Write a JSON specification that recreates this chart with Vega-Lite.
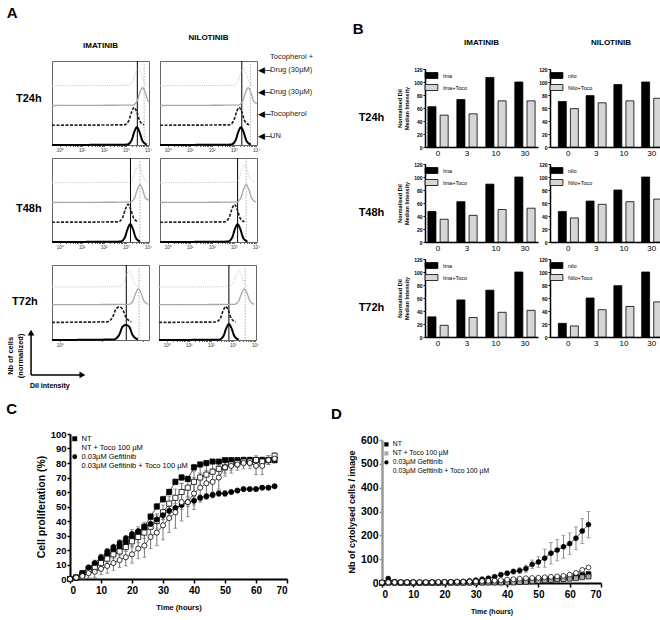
{
"$schema":"https://vega.github.io/schema/vega-lite/v6.json",
"padding":5,
"config":{"font":"Liberation Sans","view":{"stroke":null},"axis":{"grid":false,"domainColor":"black","tickColor":"black","labelColor":"black","titleColor":"black"},"legend":{"labelColor":"black"},"title":{"color":"black"}},
"datasets":{
"hist":[
{"t":"T24h","d":"IMATINIB","c":"UN","x":-0.35,"y":0},{"t":"T24h","d":"IMATINIB","c":"UN","x":3.05,"y":0.02},{"t":"T24h","d":"IMATINIB","c":"UN","x":3.25,"y":0.22},{"t":"T24h","d":"IMATINIB","c":"UN","x":3.38,"y":0.66},{"t":"T24h","d":"IMATINIB","c":"UN","x":3.5,"y":0.9},{"t":"T24h","d":"IMATINIB","c":"UN","x":3.62,"y":0.66},{"t":"T24h","d":"IMATINIB","c":"UN","x":3.75,"y":0.22},{"t":"T24h","d":"IMATINIB","c":"UN","x":3.95,"y":0.02},
{"t":"T24h","d":"IMATINIB","c":"Toco","x":-0.35,"y":1},{"t":"T24h","d":"IMATINIB","c":"Toco","x":2.93,"y":1.02},{"t":"T24h","d":"IMATINIB","c":"Toco","x":3.13,"y":1.22},{"t":"T24h","d":"IMATINIB","c":"Toco","x":3.26,"y":1.66},{"t":"T24h","d":"IMATINIB","c":"Toco","x":3.38,"y":1.9},{"t":"T24h","d":"IMATINIB","c":"Toco","x":3.5,"y":1.66},{"t":"T24h","d":"IMATINIB","c":"Toco","x":3.63,"y":1.22},{"t":"T24h","d":"IMATINIB","c":"Toco","x":3.83,"y":1.02},
{"t":"T24h","d":"IMATINIB","c":"Drug","x":-0.35,"y":2},{"t":"T24h","d":"IMATINIB","c":"Drug","x":3.31,"y":2.02},{"t":"T24h","d":"IMATINIB","c":"Drug","x":3.51,"y":2.22},{"t":"T24h","d":"IMATINIB","c":"Drug","x":3.64,"y":2.66},{"t":"T24h","d":"IMATINIB","c":"Drug","x":3.76,"y":2.9},{"t":"T24h","d":"IMATINIB","c":"Drug","x":3.88,"y":2.66},{"t":"T24h","d":"IMATINIB","c":"Drug","x":4.01,"y":2.22},{"t":"T24h","d":"IMATINIB","c":"Drug","x":4.05,"y":2.17},
{"t":"T24h","d":"IMATINIB","c":"TD","x":-0.35,"y":3},{"t":"T24h","d":"IMATINIB","c":"TD","x":3.11,"y":3.02},{"t":"T24h","d":"IMATINIB","c":"TD","x":3.31,"y":3.22},{"t":"T24h","d":"IMATINIB","c":"TD","x":3.44,"y":3.66},{"t":"T24h","d":"IMATINIB","c":"TD","x":3.56,"y":3.9},{"t":"T24h","d":"IMATINIB","c":"TD","x":3.68,"y":3.66},{"t":"T24h","d":"IMATINIB","c":"TD","x":3.81,"y":3.22},{"t":"T24h","d":"IMATINIB","c":"TD","x":4.01,"y":3.02},
{"t":"T24h","d":"NILOTINIB","c":"UN","x":-0.35,"y":0},{"t":"T24h","d":"NILOTINIB","c":"UN","x":2.87,"y":0.02},{"t":"T24h","d":"NILOTINIB","c":"UN","x":3.07,"y":0.22},{"t":"T24h","d":"NILOTINIB","c":"UN","x":3.2,"y":0.66},{"t":"T24h","d":"NILOTINIB","c":"UN","x":3.32,"y":0.9},{"t":"T24h","d":"NILOTINIB","c":"UN","x":3.44,"y":0.66},{"t":"T24h","d":"NILOTINIB","c":"UN","x":3.57,"y":0.22},{"t":"T24h","d":"NILOTINIB","c":"UN","x":3.77,"y":0.02},
{"t":"T24h","d":"NILOTINIB","c":"Toco","x":-0.35,"y":1},{"t":"T24h","d":"NILOTINIB","c":"Toco","x":2.79,"y":1.02},{"t":"T24h","d":"NILOTINIB","c":"Toco","x":2.99,"y":1.22},{"t":"T24h","d":"NILOTINIB","c":"Toco","x":3.12,"y":1.66},{"t":"T24h","d":"NILOTINIB","c":"Toco","x":3.24,"y":1.9},{"t":"T24h","d":"NILOTINIB","c":"Toco","x":3.36,"y":1.66},{"t":"T24h","d":"NILOTINIB","c":"Toco","x":3.49,"y":1.22},{"t":"T24h","d":"NILOTINIB","c":"Toco","x":3.69,"y":1.02},
{"t":"T24h","d":"NILOTINIB","c":"Drug","x":-0.35,"y":2},{"t":"T24h","d":"NILOTINIB","c":"Drug","x":3.2,"y":2.02},{"t":"T24h","d":"NILOTINIB","c":"Drug","x":3.4,"y":2.22},{"t":"T24h","d":"NILOTINIB","c":"Drug","x":3.53,"y":2.66},{"t":"T24h","d":"NILOTINIB","c":"Drug","x":3.65,"y":2.9},{"t":"T24h","d":"NILOTINIB","c":"Drug","x":3.77,"y":2.66},{"t":"T24h","d":"NILOTINIB","c":"Drug","x":3.9,"y":2.22},{"t":"T24h","d":"NILOTINIB","c":"Drug","x":4.05,"y":2.1},
{"t":"T24h","d":"NILOTINIB","c":"TD","x":-0.35,"y":3},{"t":"T24h","d":"NILOTINIB","c":"TD","x":2.98,"y":3.02},{"t":"T24h","d":"NILOTINIB","c":"TD","x":3.18,"y":3.22},{"t":"T24h","d":"NILOTINIB","c":"TD","x":3.31,"y":3.66},{"t":"T24h","d":"NILOTINIB","c":"TD","x":3.43,"y":3.9},{"t":"T24h","d":"NILOTINIB","c":"TD","x":3.55,"y":3.66},{"t":"T24h","d":"NILOTINIB","c":"TD","x":3.68,"y":3.22},{"t":"T24h","d":"NILOTINIB","c":"TD","x":3.88,"y":3.02},
{"t":"T48h","d":"IMATINIB","c":"UN","x":-0.35,"y":0},{"t":"T48h","d":"IMATINIB","c":"UN","x":2.75,"y":0.02},{"t":"T48h","d":"IMATINIB","c":"UN","x":2.95,"y":0.22},{"t":"T48h","d":"IMATINIB","c":"UN","x":3.08,"y":0.66},{"t":"T48h","d":"IMATINIB","c":"UN","x":3.2,"y":0.9},{"t":"T48h","d":"IMATINIB","c":"UN","x":3.32,"y":0.66},{"t":"T48h","d":"IMATINIB","c":"UN","x":3.45,"y":0.22},{"t":"T48h","d":"IMATINIB","c":"UN","x":3.65,"y":0.02},
{"t":"T48h","d":"IMATINIB","c":"Toco","x":-0.35,"y":1},{"t":"T48h","d":"IMATINIB","c":"Toco","x":2.65,"y":1.02},{"t":"T48h","d":"IMATINIB","c":"Toco","x":2.85,"y":1.22},{"t":"T48h","d":"IMATINIB","c":"Toco","x":2.98,"y":1.66},{"t":"T48h","d":"IMATINIB","c":"Toco","x":3.1,"y":1.9},{"t":"T48h","d":"IMATINIB","c":"Toco","x":3.22,"y":1.66},{"t":"T48h","d":"IMATINIB","c":"Toco","x":3.35,"y":1.22},{"t":"T48h","d":"IMATINIB","c":"Toco","x":3.55,"y":1.02},
{"t":"T48h","d":"IMATINIB","c":"Drug","x":-0.35,"y":2},{"t":"T48h","d":"IMATINIB","c":"Drug","x":3.19,"y":2.02},{"t":"T48h","d":"IMATINIB","c":"Drug","x":3.39,"y":2.22},{"t":"T48h","d":"IMATINIB","c":"Drug","x":3.52,"y":2.66},{"t":"T48h","d":"IMATINIB","c":"Drug","x":3.64,"y":2.9},{"t":"T48h","d":"IMATINIB","c":"Drug","x":3.76,"y":2.66},{"t":"T48h","d":"IMATINIB","c":"Drug","x":3.89,"y":2.22},{"t":"T48h","d":"IMATINIB","c":"Drug","x":4.05,"y":2.12},
{"t":"T48h","d":"IMATINIB","c":"TD","x":-0.35,"y":3},{"t":"T48h","d":"IMATINIB","c":"TD","x":3.12,"y":3.02},{"t":"T48h","d":"IMATINIB","c":"TD","x":3.32,"y":3.22},{"t":"T48h","d":"IMATINIB","c":"TD","x":3.45,"y":3.66},{"t":"T48h","d":"IMATINIB","c":"TD","x":3.57,"y":3.9},{"t":"T48h","d":"IMATINIB","c":"TD","x":3.69,"y":3.66},{"t":"T48h","d":"IMATINIB","c":"TD","x":3.82,"y":3.22},{"t":"T48h","d":"IMATINIB","c":"TD","x":4.02,"y":3.02},
{"t":"T48h","d":"NILOTINIB","c":"UN","x":-0.35,"y":0},{"t":"T48h","d":"NILOTINIB","c":"UN","x":2.72,"y":0.02},{"t":"T48h","d":"NILOTINIB","c":"UN","x":2.92,"y":0.22},{"t":"T48h","d":"NILOTINIB","c":"UN","x":3.05,"y":0.66},{"t":"T48h","d":"NILOTINIB","c":"UN","x":3.17,"y":0.9},{"t":"T48h","d":"NILOTINIB","c":"UN","x":3.29,"y":0.66},{"t":"T48h","d":"NILOTINIB","c":"UN","x":3.42,"y":0.22},{"t":"T48h","d":"NILOTINIB","c":"UN","x":3.62,"y":0.02},
{"t":"T48h","d":"NILOTINIB","c":"Toco","x":-0.35,"y":1},{"t":"T48h","d":"NILOTINIB","c":"Toco","x":2.58,"y":1.02},{"t":"T48h","d":"NILOTINIB","c":"Toco","x":2.78,"y":1.22},{"t":"T48h","d":"NILOTINIB","c":"Toco","x":2.91,"y":1.66},{"t":"T48h","d":"NILOTINIB","c":"Toco","x":3.03,"y":1.9},{"t":"T48h","d":"NILOTINIB","c":"Toco","x":3.15,"y":1.66},{"t":"T48h","d":"NILOTINIB","c":"Toco","x":3.28,"y":1.22},{"t":"T48h","d":"NILOTINIB","c":"Toco","x":3.48,"y":1.02},
{"t":"T48h","d":"NILOTINIB","c":"Drug","x":-0.35,"y":2},{"t":"T48h","d":"NILOTINIB","c":"Drug","x":3.11,"y":2.02},{"t":"T48h","d":"NILOTINIB","c":"Drug","x":3.31,"y":2.22},{"t":"T48h","d":"NILOTINIB","c":"Drug","x":3.44,"y":2.66},{"t":"T48h","d":"NILOTINIB","c":"Drug","x":3.56,"y":2.9},{"t":"T48h","d":"NILOTINIB","c":"Drug","x":3.68,"y":2.66},{"t":"T48h","d":"NILOTINIB","c":"Drug","x":3.81,"y":2.22},{"t":"T48h","d":"NILOTINIB","c":"Drug","x":4.01,"y":2.02},
{"t":"T48h","d":"NILOTINIB","c":"TD","x":-0.35,"y":3},{"t":"T48h","d":"NILOTINIB","c":"TD","x":3.03,"y":3.02},{"t":"T48h","d":"NILOTINIB","c":"TD","x":3.23,"y":3.22},{"t":"T48h","d":"NILOTINIB","c":"TD","x":3.36,"y":3.66},{"t":"T48h","d":"NILOTINIB","c":"TD","x":3.48,"y":3.9},{"t":"T48h","d":"NILOTINIB","c":"TD","x":3.6,"y":3.66},{"t":"T48h","d":"NILOTINIB","c":"TD","x":3.73,"y":3.22},{"t":"T48h","d":"NILOTINIB","c":"TD","x":3.93,"y":3.02},
{"t":"T72h","d":"IMATINIB","c":"UN","x":-0.35,"y":0},{"t":"T72h","d":"IMATINIB","c":"UN","x":2.45,"y":0.03},{"t":"T72h","d":"IMATINIB","c":"UN","x":2.7,"y":0.3},{"t":"T72h","d":"IMATINIB","c":"UN","x":2.85,"y":0.75},{"t":"T72h","d":"IMATINIB","c":"UN","x":3.0,"y":0.85},{"t":"T72h","d":"IMATINIB","c":"UN","x":3.15,"y":0.75},{"t":"T72h","d":"IMATINIB","c":"UN","x":3.3,"y":0.3},{"t":"T72h","d":"IMATINIB","c":"UN","x":3.55,"y":0.03},
{"t":"T72h","d":"IMATINIB","c":"Toco","x":-0.35,"y":1},{"t":"T72h","d":"IMATINIB","c":"Toco","x":2.15,"y":1.03},{"t":"T72h","d":"IMATINIB","c":"Toco","x":2.4,"y":1.3},{"t":"T72h","d":"IMATINIB","c":"Toco","x":2.55,"y":1.75},{"t":"T72h","d":"IMATINIB","c":"Toco","x":2.7,"y":1.88},{"t":"T72h","d":"IMATINIB","c":"Toco","x":2.85,"y":1.75},{"t":"T72h","d":"IMATINIB","c":"Toco","x":3.0,"y":1.3},{"t":"T72h","d":"IMATINIB","c":"Toco","x":3.25,"y":1.03},
{"t":"T72h","d":"IMATINIB","c":"Drug","x":-0.35,"y":2},{"t":"T72h","d":"IMATINIB","c":"Drug","x":3.12,"y":2.02},{"t":"T72h","d":"IMATINIB","c":"Drug","x":3.32,"y":2.22},{"t":"T72h","d":"IMATINIB","c":"Drug","x":3.45,"y":2.66},{"t":"T72h","d":"IMATINIB","c":"Drug","x":3.57,"y":2.9},{"t":"T72h","d":"IMATINIB","c":"Drug","x":3.69,"y":2.66},{"t":"T72h","d":"IMATINIB","c":"Drug","x":3.82,"y":2.22},{"t":"T72h","d":"IMATINIB","c":"Drug","x":4.02,"y":2.02},
{"t":"T72h","d":"IMATINIB","c":"TD","x":-0.35,"y":3},{"t":"T72h","d":"IMATINIB","c":"TD","x":2.69,"y":3.02},{"t":"T72h","d":"IMATINIB","c":"TD","x":2.89,"y":3.22},{"t":"T72h","d":"IMATINIB","c":"TD","x":3.02,"y":3.66},{"t":"T72h","d":"IMATINIB","c":"TD","x":3.14,"y":3.9},{"t":"T72h","d":"IMATINIB","c":"TD","x":3.26,"y":3.66},{"t":"T72h","d":"IMATINIB","c":"TD","x":3.39,"y":3.22},{"t":"T72h","d":"IMATINIB","c":"TD","x":3.59,"y":3.02},
{"t":"T72h","d":"NILOTINIB","c":"UN","x":-0.35,"y":0},{"t":"T72h","d":"NILOTINIB","c":"UN","x":2.37,"y":0.02},{"t":"T72h","d":"NILOTINIB","c":"UN","x":2.57,"y":0.22},{"t":"T72h","d":"NILOTINIB","c":"UN","x":2.7,"y":0.66},{"t":"T72h","d":"NILOTINIB","c":"UN","x":2.82,"y":0.9},{"t":"T72h","d":"NILOTINIB","c":"UN","x":2.94,"y":0.66},{"t":"T72h","d":"NILOTINIB","c":"UN","x":3.07,"y":0.22},{"t":"T72h","d":"NILOTINIB","c":"UN","x":3.27,"y":0.02},
{"t":"T72h","d":"NILOTINIB","c":"Toco","x":-0.35,"y":1},{"t":"T72h","d":"NILOTINIB","c":"Toco","x":2.23,"y":1.02},{"t":"T72h","d":"NILOTINIB","c":"Toco","x":2.43,"y":1.22},{"t":"T72h","d":"NILOTINIB","c":"Toco","x":2.56,"y":1.66},{"t":"T72h","d":"NILOTINIB","c":"Toco","x":2.68,"y":1.9},{"t":"T72h","d":"NILOTINIB","c":"Toco","x":2.8,"y":1.66},{"t":"T72h","d":"NILOTINIB","c":"Toco","x":2.93,"y":1.22},{"t":"T72h","d":"NILOTINIB","c":"Toco","x":3.13,"y":1.02},
{"t":"T72h","d":"NILOTINIB","c":"Drug","x":-0.35,"y":2},{"t":"T72h","d":"NILOTINIB","c":"Drug","x":3.07,"y":2.02},{"t":"T72h","d":"NILOTINIB","c":"Drug","x":3.27,"y":2.22},{"t":"T72h","d":"NILOTINIB","c":"Drug","x":3.4,"y":2.66},{"t":"T72h","d":"NILOTINIB","c":"Drug","x":3.52,"y":2.9},{"t":"T72h","d":"NILOTINIB","c":"Drug","x":3.64,"y":2.66},{"t":"T72h","d":"NILOTINIB","c":"Drug","x":3.77,"y":2.22},{"t":"T72h","d":"NILOTINIB","c":"Drug","x":3.97,"y":2.02},
{"t":"T72h","d":"NILOTINIB","c":"TD","x":-0.35,"y":3},{"t":"T72h","d":"NILOTINIB","c":"TD","x":2.82,"y":3.02},{"t":"T72h","d":"NILOTINIB","c":"TD","x":3.02,"y":3.22},{"t":"T72h","d":"NILOTINIB","c":"TD","x":3.15,"y":3.66},{"t":"T72h","d":"NILOTINIB","c":"TD","x":3.27,"y":3.9},{"t":"T72h","d":"NILOTINIB","c":"TD","x":3.39,"y":3.66},{"t":"T72h","d":"NILOTINIB","c":"TD","x":3.52,"y":3.22},{"t":"T72h","d":"NILOTINIB","c":"TD","x":3.72,"y":3.02},
{"t":"T24h","d":"IMATINIB","s":"solid","x":3.52},{"t":"T24h","d":"IMATINIB","s":"dot","x":3.83},
{"t":"T24h","d":"NILOTINIB","s":"solid","x":3.36},{"t":"T24h","d":"NILOTINIB","s":"dot","x":3.75},
{"t":"T48h","d":"IMATINIB","s":"solid","x":3.21},{"t":"T48h","d":"IMATINIB","s":"dot","x":3.64},
{"t":"T48h","d":"NILOTINIB","s":"solid","x":3.17},{"t":"T48h","d":"NILOTINIB","s":"dot","x":3.56},
{"t":"T72h","d":"IMATINIB","s":"solid","x":3.02},{"t":"T72h","d":"IMATINIB","s":"dot","x":3.6},
{"t":"T72h","d":"NILOTINIB","s":"solid","x":2.82},{"t":"T72h","d":"NILOTINIB","s":"dot","x":3.56},
{"t":"T24h","d":"NILOTINIB","a":1,"lab":"UN","x":4.05,"y":0.45},
{"t":"T24h","d":"NILOTINIB","a":1,"lab":"Tocopherol","x":4.05,"y":1.55},
{"t":"T24h","d":"NILOTINIB","a":1,"lab":"Drug (30µM)","x":4.05,"y":2.7},
{"t":"T24h","d":"NILOTINIB","a":1,"lab":"Drug (30µM)","x":4.05,"y":3.8},
{"t":"T24h","d":"NILOTINIB","a":0,"lab":"Tocopherol +","x":4.05,"y":4.45}
],
"bars":[
{"t":"T24h","d":"Ima","s":"Ima","dose":0,"v":62},{"t":"T24h","d":"Ima","s":"Ima","dose":3,"v":73},{"t":"T24h","d":"Ima","s":"Ima","dose":10,"v":107},{"t":"T24h","d":"Ima","s":"Ima","dose":30,"v":100},
{"t":"T24h","d":"Ima","s":"Ima+Toco","dose":0,"v":49},{"t":"T24h","d":"Ima","s":"Ima+Toco","dose":3,"v":51},{"t":"T24h","d":"Ima","s":"Ima+Toco","dose":10,"v":71},{"t":"T24h","d":"Ima","s":"Ima+Toco","dose":30,"v":71},
{"t":"T24h","d":"Nilo","s":"nilo","dose":0,"v":70},{"t":"T24h","d":"Nilo","s":"nilo","dose":3,"v":79},{"t":"T24h","d":"Nilo","s":"nilo","dose":10,"v":96},{"t":"T24h","d":"Nilo","s":"nilo","dose":30,"v":100},
{"t":"T24h","d":"Nilo","s":"Nilo+Toco","dose":0,"v":59},{"t":"T24h","d":"Nilo","s":"Nilo+Toco","dose":3,"v":68},{"t":"T24h","d":"Nilo","s":"Nilo+Toco","dose":10,"v":71},{"t":"T24h","d":"Nilo","s":"Nilo+Toco","dose":30,"v":75},
{"t":"T48h","d":"Ima","s":"Ima","dose":0,"v":47},{"t":"T48h","d":"Ima","s":"Ima","dose":3,"v":62},{"t":"T48h","d":"Ima","s":"Ima","dose":10,"v":89},{"t":"T48h","d":"Ima","s":"Ima","dose":30,"v":100},
{"t":"T48h","d":"Ima","s":"Ima+Toco","dose":0,"v":35},{"t":"T48h","d":"Ima","s":"Ima+Toco","dose":3,"v":41},{"t":"T48h","d":"Ima","s":"Ima+Toco","dose":10,"v":50},{"t":"T48h","d":"Ima","s":"Ima+Toco","dose":30,"v":52},
{"t":"T48h","d":"Nilo","s":"nilo","dose":0,"v":47},{"t":"T48h","d":"Nilo","s":"nilo","dose":3,"v":63},{"t":"T48h","d":"Nilo","s":"nilo","dose":10,"v":80},{"t":"T48h","d":"Nilo","s":"nilo","dose":30,"v":100},
{"t":"T48h","d":"Nilo","s":"Nilo+Toco","dose":0,"v":37},{"t":"T48h","d":"Nilo","s":"Nilo+Toco","dose":3,"v":58},{"t":"T48h","d":"Nilo","s":"Nilo+Toco","dose":10,"v":62},{"t":"T48h","d":"Nilo","s":"Nilo+Toco","dose":30,"v":66},
{"t":"T72h","d":"Ima","s":"Ima","dose":0,"v":31},{"t":"T72h","d":"Ima","s":"Ima","dose":3,"v":57},{"t":"T72h","d":"Ima","s":"Ima","dose":10,"v":72},{"t":"T72h","d":"Ima","s":"Ima","dose":30,"v":100},
{"t":"T72h","d":"Ima","s":"Ima+Toco","dose":0,"v":18},{"t":"T72h","d":"Ima","s":"Ima+Toco","dose":3,"v":30},{"t":"T72h","d":"Ima","s":"Ima+Toco","dose":10,"v":38},{"t":"T72h","d":"Ima","s":"Ima+Toco","dose":30,"v":41},
{"t":"T72h","d":"Nilo","s":"nilo","dose":0,"v":21},{"t":"T72h","d":"Nilo","s":"nilo","dose":3,"v":60},{"t":"T72h","d":"Nilo","s":"nilo","dose":10,"v":79},{"t":"T72h","d":"Nilo","s":"nilo","dose":30,"v":100},
{"t":"T72h","d":"Nilo","s":"Nilo+Toco","dose":0,"v":17},{"t":"T72h","d":"Nilo","s":"Nilo+Toco","dose":3,"v":42},{"t":"T72h","d":"Nilo","s":"Nilo+Toco","dose":10,"v":47},{"t":"T72h","d":"Nilo","s":"Nilo+Toco","dose":30,"v":54}
],
"cdata":[
{"t":0,"s":"NT","v":0,"e":0},{"t":2,"s":"NT","v":1,"e":1},{"t":4,"s":"NT","v":4,"e":1},{"t":6,"s":"NT","v":7,"e":1},{"t":8,"s":"NT","v":10,"e":1},{"t":10,"s":"NT","v":13,"e":1},{"t":12,"s":"NT","v":16,"e":1},{"t":14,"s":"NT","v":19,"e":1},{"t":16,"s":"NT","v":22,"e":1},{"t":18,"s":"NT","v":25,"e":1},{"t":20,"s":"NT","v":28,"e":1},{"t":22,"s":"NT","v":32,"e":1},{"t":24,"s":"NT","v":36,"e":2},{"t":26,"s":"NT","v":43,"e":2},{"t":28,"s":"NT","v":50,"e":2},{"t":30,"s":"NT","v":55,"e":2},{"t":32,"s":"NT","v":60,"e":2},{"t":34,"s":"NT","v":67,"e":2},{"t":36,"s":"NT","v":70,"e":2},{"t":38,"s":"NT","v":69,"e":2},{"t":40,"s":"NT","v":77,"e":2},{"t":42,"s":"NT","v":79,"e":1},{"t":44,"s":"NT","v":80,"e":1},{"t":46,"s":"NT","v":81,"e":1},{"t":48,"s":"NT","v":81,"e":1},{"t":50,"s":"NT","v":82,"e":1},{"t":52,"s":"NT","v":82,"e":1},{"t":54,"s":"NT","v":82,"e":1},{"t":56,"s":"NT","v":82,"e":1},{"t":58,"s":"NT","v":82,"e":1},{"t":60,"s":"NT","v":82,"e":1},{"t":62,"s":"NT","v":82,"e":1},{"t":64,"s":"NT","v":82,"e":1},{"t":66,"s":"NT","v":82,"e":1},
{"t":0,"s":"NTT","v":0,"e":0},{"t":2,"s":"NTT","v":1,"e":1},{"t":4,"s":"NTT","v":3,"e":2},{"t":6,"s":"NTT","v":6,"e":2},{"t":8,"s":"NTT","v":8,"e":3},{"t":10,"s":"NTT","v":11,"e":3},{"t":12,"s":"NTT","v":14,"e":3},{"t":14,"s":"NTT","v":17,"e":3},{"t":16,"s":"NTT","v":19,"e":3},{"t":18,"s":"NTT","v":22,"e":3},{"t":20,"s":"NTT","v":26,"e":4},{"t":22,"s":"NTT","v":29,"e":4},{"t":24,"s":"NTT","v":32,"e":4},{"t":26,"s":"NTT","v":36,"e":5},{"t":28,"s":"NTT","v":40,"e":5},{"t":30,"s":"NTT","v":46,"e":5},{"t":32,"s":"NTT","v":52,"e":5},{"t":34,"s":"NTT","v":56,"e":6},{"t":36,"s":"NTT","v":60,"e":6},{"t":38,"s":"NTT","v":63,"e":6},{"t":40,"s":"NTT","v":67,"e":7},{"t":42,"s":"NTT","v":70,"e":7},{"t":44,"s":"NTT","v":72,"e":6},{"t":46,"s":"NTT","v":74,"e":6},{"t":48,"s":"NTT","v":76,"e":5},{"t":50,"s":"NTT","v":77,"e":4},{"t":52,"s":"NTT","v":79,"e":4},{"t":54,"s":"NTT","v":80,"e":3},{"t":56,"s":"NTT","v":81,"e":3},{"t":58,"s":"NTT","v":81,"e":3},{"t":60,"s":"NTT","v":82,"e":3},{"t":62,"s":"NTT","v":81,"e":3},{"t":64,"s":"NTT","v":82,"e":3},{"t":66,"s":"NTT","v":85,"e":2},
{"t":0,"s":"G","v":0,"e":0},{"t":2,"s":"G","v":1,"e":1},{"t":4,"s":"G","v":4,"e":1},{"t":6,"s":"G","v":8,"e":1},{"t":8,"s":"G","v":11,"e":2},{"t":10,"s":"G","v":15,"e":2},{"t":12,"s":"G","v":19,"e":2},{"t":14,"s":"G","v":22,"e":2},{"t":16,"s":"G","v":25,"e":2},{"t":18,"s":"G","v":28,"e":2},{"t":20,"s":"G","v":31,"e":3},{"t":22,"s":"G","v":33,"e":3},{"t":24,"s":"G","v":36,"e":3},{"t":26,"s":"G","v":38,"e":3},{"t":28,"s":"G","v":41,"e":3},{"t":30,"s":"G","v":44,"e":3},{"t":32,"s":"G","v":47,"e":3},{"t":34,"s":"G","v":49,"e":3},{"t":36,"s":"G","v":51,"e":3},{"t":38,"s":"G","v":53,"e":3},{"t":40,"s":"G","v":54,"e":3},{"t":42,"s":"G","v":56,"e":2},{"t":44,"s":"G","v":57,"e":2},{"t":46,"s":"G","v":58,"e":2},{"t":48,"s":"G","v":59,"e":2},{"t":50,"s":"G","v":59,"e":2},{"t":52,"s":"G","v":60,"e":1},{"t":54,"s":"G","v":61,"e":1},{"t":56,"s":"G","v":62,"e":1},{"t":58,"s":"G","v":62,"e":1},{"t":60,"s":"G","v":62,"e":1},{"t":62,"s":"G","v":63,"e":1},{"t":64,"s":"G","v":63,"e":1},{"t":66,"s":"G","v":64,"e":1},
{"t":0,"s":"GT","v":0,"e":0},{"t":2,"s":"GT","v":1,"e":1},{"t":4,"s":"GT","v":2,"e":2},{"t":6,"s":"GT","v":4,"e":3},{"t":8,"s":"GT","v":5,"e":4},{"t":10,"s":"GT","v":7,"e":4},{"t":12,"s":"GT","v":9,"e":5},{"t":14,"s":"GT","v":11,"e":5},{"t":16,"s":"GT","v":13,"e":5},{"t":18,"s":"GT","v":15,"e":6},{"t":20,"s":"GT","v":17,"e":6},{"t":22,"s":"GT","v":21,"e":7},{"t":24,"s":"GT","v":23,"e":8},{"t":26,"s":"GT","v":29,"e":8},{"t":28,"s":"GT","v":32,"e":9},{"t":30,"s":"GT","v":37,"e":10},{"t":32,"s":"GT","v":42,"e":10},{"t":34,"s":"GT","v":46,"e":11},{"t":36,"s":"GT","v":53,"e":13},{"t":38,"s":"GT","v":53,"e":10},{"t":40,"s":"GT","v":59,"e":11},{"t":42,"s":"GT","v":63,"e":10},{"t":44,"s":"GT","v":66,"e":9},{"t":46,"s":"GT","v":67,"e":9},{"t":48,"s":"GT","v":70,"e":8},{"t":50,"s":"GT","v":77,"e":6},{"t":52,"s":"GT","v":78,"e":5},{"t":54,"s":"GT","v":79,"e":4},{"t":56,"s":"GT","v":80,"e":4},{"t":58,"s":"GT","v":80,"e":4},{"t":60,"s":"GT","v":78,"e":6},{"t":62,"s":"GT","v":78,"e":6},{"t":64,"s":"GT","v":82,"e":3},{"t":66,"s":"GT","v":83,"e":3}
],
"ddata":[
{"t":0,"s":"NT","v":0,"e":0},{"t":2,"s":"NT","v":2,"e":2},{"t":4,"s":"NT","v":2,"e":1},{"t":6,"s":"NT","v":1,"e":1},{"t":8,"s":"NT","v":1,"e":1},{"t":10,"s":"NT","v":1,"e":1},{"t":12,"s":"NT","v":1,"e":1},{"t":14,"s":"NT","v":1,"e":1},{"t":16,"s":"NT","v":1,"e":1},{"t":18,"s":"NT","v":1,"e":1},{"t":20,"s":"NT","v":2,"e":1},{"t":22,"s":"NT","v":2,"e":1},{"t":24,"s":"NT","v":2,"e":1},{"t":26,"s":"NT","v":2,"e":1},{"t":28,"s":"NT","v":2,"e":1},{"t":30,"s":"NT","v":2,"e":1},{"t":32,"s":"NT","v":2,"e":1},{"t":34,"s":"NT","v":3,"e":1},{"t":36,"s":"NT","v":3,"e":1},{"t":38,"s":"NT","v":3,"e":1},{"t":40,"s":"NT","v":4,"e":1},{"t":42,"s":"NT","v":5,"e":1},{"t":44,"s":"NT","v":7,"e":2},{"t":46,"s":"NT","v":10,"e":2},{"t":48,"s":"NT","v":12,"e":2},{"t":50,"s":"NT","v":14,"e":2},{"t":52,"s":"NT","v":16,"e":2},{"t":54,"s":"NT","v":17,"e":2},{"t":56,"s":"NT","v":18,"e":3},{"t":58,"s":"NT","v":19,"e":3},{"t":60,"s":"NT","v":22,"e":3},{"t":62,"s":"NT","v":26,"e":3},{"t":64,"s":"NT","v":33,"e":4},{"t":66,"s":"NT","v":37,"e":4},
{"t":0,"s":"NTT","v":0,"e":0},{"t":2,"s":"NTT","v":1,"e":1},{"t":4,"s":"NTT","v":1,"e":1},{"t":6,"s":"NTT","v":1,"e":1},{"t":8,"s":"NTT","v":1,"e":1},{"t":10,"s":"NTT","v":1,"e":1},{"t":12,"s":"NTT","v":1,"e":1},{"t":14,"s":"NTT","v":1,"e":1},{"t":16,"s":"NTT","v":1,"e":1},{"t":18,"s":"NTT","v":1,"e":1},{"t":20,"s":"NTT","v":1,"e":1},{"t":22,"s":"NTT","v":1,"e":1},{"t":24,"s":"NTT","v":1,"e":1},{"t":26,"s":"NTT","v":1,"e":1},{"t":28,"s":"NTT","v":2,"e":1},{"t":30,"s":"NTT","v":2,"e":1},{"t":32,"s":"NTT","v":2,"e":1},{"t":34,"s":"NTT","v":2,"e":1},{"t":36,"s":"NTT","v":2,"e":1},{"t":38,"s":"NTT","v":2,"e":1},{"t":40,"s":"NTT","v":2,"e":1},{"t":42,"s":"NTT","v":2,"e":1},{"t":44,"s":"NTT","v":4,"e":1},{"t":46,"s":"NTT","v":5,"e":1},{"t":48,"s":"NTT","v":7,"e":2},{"t":50,"s":"NTT","v":9,"e":2},{"t":52,"s":"NTT","v":11,"e":2},{"t":54,"s":"NTT","v":13,"e":2},{"t":56,"s":"NTT","v":15,"e":2},{"t":58,"s":"NTT","v":16,"e":2},{"t":60,"s":"NTT","v":18,"e":3},{"t":62,"s":"NTT","v":20,"e":3},{"t":64,"s":"NTT","v":24,"e":3},{"t":66,"s":"NTT","v":27,"e":3},
{"t":0,"s":"G","v":3,"e":1},{"t":2,"s":"G","v":18,"e":10},{"t":4,"s":"G","v":5,"e":2},{"t":6,"s":"G","v":4,"e":2},{"t":8,"s":"G","v":4,"e":2},{"t":10,"s":"G","v":4,"e":2},{"t":12,"s":"G","v":3,"e":2},{"t":14,"s":"G","v":3,"e":2},{"t":16,"s":"G","v":4,"e":2},{"t":18,"s":"G","v":4,"e":2},{"t":20,"s":"G","v":5,"e":2},{"t":22,"s":"G","v":5,"e":2},{"t":24,"s":"G","v":6,"e":2},{"t":26,"s":"G","v":7,"e":2},{"t":28,"s":"G","v":9,"e":3},{"t":30,"s":"G","v":12,"e":3},{"t":32,"s":"G","v":16,"e":4},{"t":34,"s":"G","v":20,"e":4},{"t":36,"s":"G","v":26,"e":5},{"t":38,"s":"G","v":35,"e":6},{"t":40,"s":"G","v":41,"e":8},{"t":42,"s":"G","v":48,"e":10},{"t":44,"s":"G","v":52,"e":12},{"t":46,"s":"G","v":60,"e":15},{"t":48,"s":"G","v":78,"e":18},{"t":50,"s":"G","v":88,"e":22},{"t":52,"s":"G","v":104,"e":38},{"t":54,"s":"G","v":125,"e":45},{"t":56,"s":"G","v":138,"e":45},{"t":58,"s":"G","v":152,"e":48},{"t":60,"s":"G","v":165,"e":45},{"t":62,"s":"G","v":188,"e":47},{"t":64,"s":"G","v":218,"e":52},{"t":66,"s":"G","v":245,"e":55},
{"t":0,"s":"GT","v":2,"e":1},{"t":2,"s":"GT","v":3,"e":1},{"t":4,"s":"GT","v":3,"e":1},{"t":6,"s":"GT","v":3,"e":1},{"t":8,"s":"GT","v":3,"e":1},{"t":10,"s":"GT","v":3,"e":1},{"t":12,"s":"GT","v":3,"e":1},{"t":14,"s":"GT","v":3,"e":1},{"t":16,"s":"GT","v":3,"e":1},{"t":18,"s":"GT","v":4,"e":1},{"t":20,"s":"GT","v":4,"e":1},{"t":22,"s":"GT","v":4,"e":1},{"t":24,"s":"GT","v":5,"e":1},{"t":26,"s":"GT","v":5,"e":1},{"t":28,"s":"GT","v":6,"e":1},{"t":30,"s":"GT","v":7,"e":1},{"t":32,"s":"GT","v":8,"e":1},{"t":34,"s":"GT","v":9,"e":1},{"t":36,"s":"GT","v":10,"e":1},{"t":38,"s":"GT","v":12,"e":2},{"t":40,"s":"GT","v":14,"e":2},{"t":42,"s":"GT","v":16,"e":2},{"t":44,"s":"GT","v":18,"e":2},{"t":46,"s":"GT","v":20,"e":2},{"t":48,"s":"GT","v":21,"e":2},{"t":50,"s":"GT","v":22,"e":2},{"t":52,"s":"GT","v":24,"e":2},{"t":54,"s":"GT","v":26,"e":3},{"t":56,"s":"GT","v":28,"e":3},{"t":58,"s":"GT","v":30,"e":3},{"t":60,"s":"GT","v":35,"e":3},{"t":62,"s":"GT","v":42,"e":4},{"t":64,"s":"GT","v":55,"e":4},{"t":66,"s":"GT","v":65,"e":4}
]
},
"resolve":{"scale":{"color":"independent","fill":"independent","shape":"independent","x":"independent","y":"independent"},"legend":{"color":"independent","fill":"independent","shape":"independent"}},
"spacing":12,
"vconcat":[
{"spacing":38,
 "resolve":{"scale":{"color":"independent","x":"independent","y":"independent"},"legend":{"color":"independent"}},
 "hconcat":[
  {"spacing":0,
   "resolve":{"scale":{"x":"independent","y":"independent","color":"independent","strokeDash":"independent","strokeWidth":"independent"}},
   "hconcat":[
    {"width":1,"height":1,"data":{"values":[{"id":0}]},"mark":{"type":"point","opacity":0,"size":1}},
    {"title":{"text":"A","fontSize":15,"fontWeight":"bold","anchor":"start","offset":13},
     "spacing":14,
     "resolve":{"scale":{"x":"independent","y":"independent","color":"independent","strokeDash":"independent","strokeWidth":"independent"}},
     "vconcat":[
      {"spacing":4,
       "resolve":{"scale":{"x":"independent","y":"independent","color":"independent","strokeDash":"independent","strokeWidth":"independent"}},
       "vconcat":[
        {"title":{"text":"T24h","orient":"left","angle":0,"fontSize":11,"fontWeight":"bold","anchor":"middle","offset":-7},
         "spacing":2,
         "resolve":{"scale":{"x":"independent","y":"independent","color":"independent","strokeDash":"independent","strokeWidth":"independent"}},
         "hconcat":[
          {"title":{"text":"IMATINIB","fontSize":8,"fontWeight":"bold","anchor":"middle","offset":11},
           "width":97,"height":84,"view":{"stroke":"#666","strokeWidth":1},"data":{"name":"hist"},
           "transform":[{"filter":"datum.t=='T24h' && datum.d=='IMATINIB'"}],
           "encoding":{"x":{"field":"x","type":"quantitative","scale":{"domain":[-0.35,4.05],"nice":false,"zero":false},"axis":{"title":null,"domain":false,"values":[0,0.301,0.477,0.602,0.699,0.778,0.845,0.903,0.954,1,1.301,1.477,1.602,1.699,1.778,1.845,1.903,1.954,2,2.301,2.477,2.602,2.699,2.778,2.845,2.903,2.954,3,3.301,3.477,3.602,3.699,3.778,3.845,3.903,3.954,4],"labelExpr":"datum.value == 0 ? '10⁰' : datum.value == 1 ? '10¹' : datum.value == 2 ? '10²' : datum.value == 3 ? '10³' : datum.value == 4 ? '10⁴' : ''","labelFontSize":4.5,"labelColor":"#333","labelPadding":1,"tickSize":1.5,"tickColor":"#666","labelOverlap":false,"labelFlush":false}}},
           "layer":[
            {"transform":[{"filter":"datum.s == 'solid'"}],"mark":{"type":"rule","color":"black","strokeWidth":1}},
            {"transform":[{"filter":"datum.s == 'dot'"}],"mark":{"type":"rule","color":"#999","strokeWidth":0.8,"strokeDash":[1.5,1.5]}},
            {"transform":[{"filter":"isValid(datum.c)"}],"mark":{"type":"line","interpolate":"monotone"},
             "encoding":{"y":{"field":"y","type":"quantitative","scale":{"domain":[0,4.25],"nice":false},"axis":null},
              "color":{"field":"c","type":"nominal","scale":{"domain":["UN","Toco","Drug","TD"],"range":["#000000","#222222","#a8a8a8","#c2c2c2"]},"legend":null},
              "strokeDash":{"field":"c","type":"nominal","scale":{"domain":["UN","Toco","Drug","TD"],"range":[[1,0],[3,1.5],[1,0],[1,1.2]]},"legend":null},
              "strokeWidth":{"field":"c","type":"nominal","scale":{"domain":["UN","Toco","Drug","TD"],"range":[2,1,1.6,1]},"legend":null}}}
           ]},
          {"title":{"text":"NILOTINIB","fontSize":8,"fontWeight":"bold","anchor":"middle","offset":11},
           "width":97,"height":84,"view":{"stroke":"#666","strokeWidth":1},"data":{"name":"hist"},
           "transform":[{"filter":"datum.t=='T24h' && datum.d=='NILOTINIB'"}],
           "encoding":{"x":{"field":"x","type":"quantitative","scale":{"domain":[-0.35,4.05],"nice":false,"zero":false},"axis":{"title":null,"domain":false,"values":[0,0.301,0.477,0.602,0.699,0.778,0.845,0.903,0.954,1,1.301,1.477,1.602,1.699,1.778,1.845,1.903,1.954,2,2.301,2.477,2.602,2.699,2.778,2.845,2.903,2.954,3,3.301,3.477,3.602,3.699,3.778,3.845,3.903,3.954,4],"labelExpr":"datum.value == 0 ? '10⁰' : datum.value == 1 ? '10¹' : datum.value == 2 ? '10²' : datum.value == 3 ? '10³' : datum.value == 4 ? '10⁴' : ''","labelFontSize":4.5,"labelColor":"#333","labelPadding":1,"tickSize":1.5,"tickColor":"#666","labelOverlap":false,"labelFlush":false}}},
           "layer":[
            {"transform":[{"filter":"datum.s == 'solid'"}],"mark":{"type":"rule","color":"black","strokeWidth":1}},
            {"transform":[{"filter":"datum.s == 'dot'"}],"mark":{"type":"rule","color":"#999","strokeWidth":0.8,"strokeDash":[1.5,1.5]}},
            {"transform":[{"filter":"isValid(datum.c)"}],"mark":{"type":"line","interpolate":"monotone"},
             "encoding":{"y":{"field":"y","type":"quantitative","scale":{"domain":[0,4.25],"nice":false},"axis":null},
              "color":{"field":"c","type":"nominal","scale":{"domain":["UN","Toco","Drug","TD"],"range":["#000000","#222222","#a8a8a8","#c2c2c2"]},"legend":null},
              "strokeDash":{"field":"c","type":"nominal","scale":{"domain":["UN","Toco","Drug","TD"],"range":[[1,0],[3,1.5],[1,0],[1,1.2]]},"legend":null},
              "strokeWidth":{"field":"c","type":"nominal","scale":{"domain":["UN","Toco","Drug","TD"],"range":[2,1,1.6,1]},"legend":null}}},
            {"transform":[{"filter":"datum.a == 1"}],"mark":{"type":"text","text":"◀─","align":"left","dx":1,"fontSize":9,"color":"black"},
             "encoding":{"y":{"field":"y","type":"quantitative"}}},
            {"transform":[{"filter":"isValid(datum.lab)"}],"mark":{"type":"text","align":"left","dx":13,"fontSize":7.5,"color":"#222"},
             "encoding":{"y":{"field":"y","type":"quantitative"},"text":{"field":"lab","type":"nominal"}}}
           ]}
         ]},
        {"title":{"text":"T48h","orient":"left","angle":0,"fontSize":11,"fontWeight":"bold","anchor":"middle","offset":-7},
         "spacing":2,
         "resolve":{"scale":{"x":"independent","y":"independent","color":"independent","strokeDash":"independent","strokeWidth":"independent"}},
         "hconcat":[
          {"width":97,"height":84,"view":{"stroke":"#666","strokeWidth":1},"data":{"name":"hist"},
           "transform":[{"filter":"datum.t=='T48h' && datum.d=='IMATINIB'"}],
           "encoding":{"x":{"field":"x","type":"quantitative","scale":{"domain":[-0.35,4.05],"nice":false,"zero":false},"axis":{"title":null,"domain":false,"values":[0,0.301,0.477,0.602,0.699,0.778,0.845,0.903,0.954,1,1.301,1.477,1.602,1.699,1.778,1.845,1.903,1.954,2,2.301,2.477,2.602,2.699,2.778,2.845,2.903,2.954,3,3.301,3.477,3.602,3.699,3.778,3.845,3.903,3.954,4],"labelExpr":"datum.value == 0 ? '10⁰' : datum.value == 1 ? '10¹' : datum.value == 2 ? '10²' : datum.value == 3 ? '10³' : datum.value == 4 ? '10⁴' : ''","labelFontSize":4.5,"labelColor":"#333","labelPadding":1,"tickSize":1.5,"tickColor":"#666","labelOverlap":false,"labelFlush":false}}},
           "layer":[
            {"transform":[{"filter":"datum.s == 'solid'"}],"mark":{"type":"rule","color":"black","strokeWidth":1}},
            {"transform":[{"filter":"datum.s == 'dot'"}],"mark":{"type":"rule","color":"#999","strokeWidth":0.8,"strokeDash":[1.5,1.5]}},
            {"transform":[{"filter":"isValid(datum.c)"}],"mark":{"type":"line","interpolate":"monotone"},
             "encoding":{"y":{"field":"y","type":"quantitative","scale":{"domain":[0,4.25],"nice":false},"axis":null},
              "color":{"field":"c","type":"nominal","scale":{"domain":["UN","Toco","Drug","TD"],"range":["#000000","#222222","#a8a8a8","#c2c2c2"]},"legend":null},
              "strokeDash":{"field":"c","type":"nominal","scale":{"domain":["UN","Toco","Drug","TD"],"range":[[1,0],[3,1.5],[1,0],[1,1.2]]},"legend":null},
              "strokeWidth":{"field":"c","type":"nominal","scale":{"domain":["UN","Toco","Drug","TD"],"range":[2,1,1.6,1]},"legend":null}}}
           ]},
          {"width":97,"height":84,"view":{"stroke":"#666","strokeWidth":1},"data":{"name":"hist"},
           "transform":[{"filter":"datum.t=='T48h' && datum.d=='NILOTINIB'"}],
           "encoding":{"x":{"field":"x","type":"quantitative","scale":{"domain":[-0.35,4.05],"nice":false,"zero":false},"axis":{"title":null,"domain":false,"values":[0,0.301,0.477,0.602,0.699,0.778,0.845,0.903,0.954,1,1.301,1.477,1.602,1.699,1.778,1.845,1.903,1.954,2,2.301,2.477,2.602,2.699,2.778,2.845,2.903,2.954,3,3.301,3.477,3.602,3.699,3.778,3.845,3.903,3.954,4],"labelExpr":"datum.value == 0 ? '10⁰' : datum.value == 1 ? '10¹' : datum.value == 2 ? '10²' : datum.value == 3 ? '10³' : datum.value == 4 ? '10⁴' : ''","labelFontSize":4.5,"labelColor":"#333","labelPadding":1,"tickSize":1.5,"tickColor":"#666","labelOverlap":false,"labelFlush":false}}},
           "layer":[
            {"transform":[{"filter":"datum.s == 'solid'"}],"mark":{"type":"rule","color":"black","strokeWidth":1}},
            {"transform":[{"filter":"datum.s == 'dot'"}],"mark":{"type":"rule","color":"#999","strokeWidth":0.8,"strokeDash":[1.5,1.5]}},
            {"transform":[{"filter":"isValid(datum.c)"}],"mark":{"type":"line","interpolate":"monotone"},
             "encoding":{"y":{"field":"y","type":"quantitative","scale":{"domain":[0,4.25],"nice":false},"axis":null},
              "color":{"field":"c","type":"nominal","scale":{"domain":["UN","Toco","Drug","TD"],"range":["#000000","#222222","#a8a8a8","#c2c2c2"]},"legend":null},
              "strokeDash":{"field":"c","type":"nominal","scale":{"domain":["UN","Toco","Drug","TD"],"range":[[1,0],[3,1.5],[1,0],[1,1.2]]},"legend":null},
              "strokeWidth":{"field":"c","type":"nominal","scale":{"domain":["UN","Toco","Drug","TD"],"range":[2,1,1.6,1]},"legend":null}}}
           ]}
         ]}
       ]},
      {"spacing":2,
       "resolve":{"scale":{"x":"independent","y":"independent","color":"independent","strokeDash":"independent","strokeWidth":"independent"}},
       "hconcat":[
        {"width":97,"height":75,"view":{"stroke":"#666","strokeWidth":1},"data":{"name":"hist"},
         "transform":[{"filter":"datum.t=='T72h' && datum.d=='IMATINIB'"}],
         "layer":[
          {"transform":[{"filter":"datum.s == 'solid'"}],"mark":{"type":"rule","color":"black","strokeWidth":1},
           "encoding":{"x":{"field":"x","type":"quantitative"}}},
          {"transform":[{"filter":"datum.s == 'dot'"}],"mark":{"type":"rule","color":"#999","strokeWidth":0.8,"strokeDash":[1.5,1.5]},
           "encoding":{"x":{"field":"x","type":"quantitative"}}},
          {"transform":[{"filter":"isValid(datum.c)"}],"mark":{"type":"line","interpolate":"monotone"},
           "encoding":{"x":{"field":"x","type":"quantitative","scale":{"domain":[-0.35,4.05],"nice":false,"zero":false},"axis":{"title":null,"domain":false,"values":[0,0.301,0.477,0.602,0.699,0.778,0.845,0.903,0.954,1,1.301,1.477,1.602,1.699,1.778,1.845,1.903,1.954,2,2.301,2.477,2.602,2.699,2.778,2.845,2.903,2.954,3,3.301,3.477,3.602,3.699,3.778,3.845,3.903,3.954,4],"labelExpr":"datum.value == 0 ? '10⁰' : datum.value == 1 ? '10¹' : datum.value == 2 ? '10²' : datum.value == 3 ? '10³' : datum.value == 4 ? '10⁴' : ''","labelFontSize":4.5,"labelColor":"#333","labelPadding":1,"tickSize":1.5,"tickColor":"#666","labelOverlap":false,"labelFlush":false}},
            "y":{"field":"y","type":"quantitative","scale":{"domain":[0,4.25],"nice":false},"axis":null},
            "color":{"field":"c","type":"nominal","scale":{"domain":["UN","Toco","Drug","TD"],"range":["#000000","#222222","#a8a8a8","#c2c2c2"]},"legend":null},
            "strokeDash":{"field":"c","type":"nominal","scale":{"domain":["UN","Toco","Drug","TD"],"range":[[1,0],[3,1.5],[1,0],[1,1.2]]},"legend":null},
            "strokeWidth":{"field":"c","type":"nominal","scale":{"domain":["UN","Toco","Drug","TD"],"range":[2,1,1.6,1]},"legend":null}}},
          {"data":{"values":[{"id":1}]},"mark":{"type":"text","text":"T72h","align":"left","baseline":"middle","fontSize":11,"fontWeight":"bold","color":"black"},
           "encoding":{"x":{"datum":-2.16,"type":"quantitative"},"y":{"datum":2.15,"type":"quantitative"}}},
          {"data":{"values":[{"id":1}]},"mark":{"type":"rule","color":"black","strokeWidth":1.5},
           "encoding":{"x":{"datum":-1.3,"type":"quantitative"},"y":{"datum":-1.98,"type":"quantitative"},"y2":{"datum":0.3}}},
          {"data":{"values":[{"id":1}]},"mark":{"type":"rule","color":"black","strokeWidth":1.5},
           "encoding":{"x":{"datum":-1.3,"type":"quantitative"},"x2":{"datum":0.95},"y":{"datum":-1.98,"type":"quantitative"}}},
          {"data":{"values":[{"id":1}]},"mark":{"type":"point","shape":"triangle-up","filled":true,"color":"black","size":45,"opacity":1},
           "encoding":{"x":{"datum":-1.3,"type":"quantitative"},"y":{"datum":0.42,"type":"quantitative"}}},
          {"data":{"values":[{"id":1}]},"mark":{"type":"point","shape":"triangle-right","filled":true,"color":"black","size":45,"opacity":1},
           "encoding":{"x":{"datum":1.03,"type":"quantitative"},"y":{"datum":-1.98,"type":"quantitative"}}},
          {"data":{"values":[{"id":1}]},"mark":{"type":"text","text":"DiI intensity","align":"left","baseline":"middle","fontSize":7,"fontWeight":"bold","color":"black"},
           "encoding":{"x":{"datum":-1.35,"type":"quantitative"},"y":{"datum":-2.6,"type":"quantitative"}}},
          {"data":{"values":[{"id":1}]},"mark":{"type":"text","text":"Nb of cells","angle":270,"align":"center","baseline":"middle","fontSize":7.5,"fontWeight":"bold","color":"black"},
           "encoding":{"x":{"datum":-2.2,"type":"quantitative"},"y":{"datum":-0.9,"type":"quantitative"}}},
          {"data":{"values":[{"id":1}]},"mark":{"type":"text","text":"(normalized)","angle":270,"align":"center","baseline":"middle","fontSize":7.5,"fontWeight":"bold","color":"black"},
           "encoding":{"x":{"datum":-1.75,"type":"quantitative"},"y":{"datum":-0.9,"type":"quantitative"}}}
         ]},
        {"width":97,"height":75,"view":{"stroke":"#666","strokeWidth":1},"data":{"name":"hist"},
         "transform":[{"filter":"datum.t=='T72h' && datum.d=='NILOTINIB'"}],
         "encoding":{"x":{"field":"x","type":"quantitative","scale":{"domain":[-0.35,4.05],"nice":false,"zero":false},"axis":{"title":null,"domain":false,"values":[0,0.301,0.477,0.602,0.699,0.778,0.845,0.903,0.954,1,1.301,1.477,1.602,1.699,1.778,1.845,1.903,1.954,2,2.301,2.477,2.602,2.699,2.778,2.845,2.903,2.954,3,3.301,3.477,3.602,3.699,3.778,3.845,3.903,3.954,4],"labelExpr":"datum.value == 0 ? '10⁰' : datum.value == 1 ? '10¹' : datum.value == 2 ? '10²' : datum.value == 3 ? '10³' : datum.value == 4 ? '10⁴' : ''","labelFontSize":4.5,"labelColor":"#333","labelPadding":1,"tickSize":1.5,"tickColor":"#666","labelOverlap":false,"labelFlush":false}}},
         "layer":[
          {"transform":[{"filter":"datum.s == 'solid'"}],"mark":{"type":"rule","color":"black","strokeWidth":1}},
          {"transform":[{"filter":"datum.s == 'dot'"}],"mark":{"type":"rule","color":"#999","strokeWidth":0.8,"strokeDash":[1.5,1.5]}},
          {"transform":[{"filter":"isValid(datum.c)"}],"mark":{"type":"line","interpolate":"monotone"},
           "encoding":{"y":{"field":"y","type":"quantitative","scale":{"domain":[0,4.25],"nice":false},"axis":null},
            "color":{"field":"c","type":"nominal","scale":{"domain":["UN","Toco","Drug","TD"],"range":["#000000","#222222","#a8a8a8","#c2c2c2"]},"legend":null},
            "strokeDash":{"field":"c","type":"nominal","scale":{"domain":["UN","Toco","Drug","TD"],"range":[[1,0],[3,1.5],[1,0],[1,1.2]]},"legend":null},
            "strokeWidth":{"field":"c","type":"nominal","scale":{"domain":["UN","Toco","Drug","TD"],"range":[2,1,1.6,1]},"legend":null}}}
         ]}
       ]}
     ]}
   ]},
  {"title":{"text":"B","fontSize":15,"fontWeight":"bold","anchor":"start","offset":2,"dx":-6},
   "spacing":5,
   "resolve":{"scale":{"color":"independent","x":"independent","y":"independent","xOffset":"independent"},"legend":{"color":"independent"}},
   "vconcat":[
    {"spacing":13,
     "hconcat":[
      {"title":{"text":"IMATINIB","fontSize":8,"fontWeight":"bold","anchor":"middle","offset":14},"width":113,"height":1,"data":{"values":[{"id":0}]},"mark":{"type":"point","opacity":0,"size":1}},
      {"title":{"text":"NILOTINIB","fontSize":8,"fontWeight":"bold","anchor":"middle","offset":14},"width":120,"height":1,"data":{"values":[{"id":0}]},"mark":{"type":"point","opacity":0,"size":1}}
     ]},
    {"spacing":5,
     "resolve":{"scale":{"color":"independent","x":"independent","y":"independent","xOffset":"independent"},"legend":{"color":"independent"}},
     "vconcat":[
      {"title":{"text":"T24h","orient":"left","angle":0,"fontSize":11,"fontWeight":"bold","anchor":"middle","offset":0},
       "spacing":0,
       "resolve":{"scale":{"color":"independent","x":"independent","y":"independent","xOffset":"independent"},"legend":{"color":"independent"}},
       "hconcat":[
        {"width":113,"height":78,"data":{"name":"bars"},"transform":[{"filter":"datum.t=='T24h' && datum.d=='Ima'"}],
         "mark":{"type":"bar","stroke":"black","strokeWidth":0.8},
         "encoding":{"x":{"field":"dose","type":"ordinal","title":null,"scale":{"paddingInner":0.3,"paddingOuter":0.1},"axis":{"labelAngle":0,"labelFontSize":8,"ticks":false,"domainWidth":1.5,"labelPadding":2}},
          "xOffset":{"field":"s","type":"nominal","sort":["Ima","Ima+Toco"],"scale":{"paddingInner":0.34,"paddingOuter":0}},
          "y":{"field":"v","type":"quantitative","scale":{"domain":[0,120]},"axis":{"values":[0,20,40,60,80,100,120],"labelFontSize":5,"labelFontWeight":"bold","tickSize":2,"domainWidth":1.5,"labelPadding":1,"title":["Normalised DiI","Median Intensity"],"titleFontSize":5.5,"titleFontWeight":"bold","titlePadding":4}},
          "color":{"field":"s","type":"nominal","scale":{"domain":["Ima","Ima+Toco"],"range":["black","#d6d6d6"]},"legend":{"orient":"top-left","title":null,"offset":2,"padding":0,"labelFontSize":5.5,"symbolType":"M-1.6,-0.75H1.6V0.75H-1.6Z","symbolSize":64,"symbolStrokeColor":"black","symbolStrokeWidth":0.8,"labelOffset":7,"rowPadding":1}}}},
        {"width":120,"height":78,"data":{"name":"bars"},"transform":[{"filter":"datum.t=='T24h' && datum.d=='Nilo'"}],
         "mark":{"type":"bar","stroke":"black","strokeWidth":0.8},
         "encoding":{"x":{"field":"dose","type":"ordinal","title":null,"scale":{"paddingInner":0.28,"paddingOuter":0.3},"axis":{"labelAngle":0,"labelFontSize":8,"ticks":false,"domainWidth":1.5,"labelPadding":2}},
          "xOffset":{"field":"s","type":"nominal","sort":["nilo","Nilo+Toco"],"scale":{"paddingInner":0.34,"paddingOuter":0}},
          "y":{"field":"v","type":"quantitative","scale":{"domain":[0,120]},"axis":{"values":[0,20,40,60,80,100,120],"labelFontSize":5,"labelFontWeight":"bold","tickSize":2,"domainWidth":1.5,"labelPadding":1,"title":null}},
          "color":{"field":"s","type":"nominal","scale":{"domain":["nilo","Nilo+Toco"],"range":["black","#d6d6d6"]},"legend":{"orient":"top-left","title":null,"offset":2,"padding":0,"labelFontSize":5.5,"symbolType":"M-1.6,-0.75H1.6V0.75H-1.6Z","symbolSize":64,"symbolStrokeColor":"black","symbolStrokeWidth":0.8,"labelOffset":7,"rowPadding":1}}}}
       ]},
      {"title":{"text":"T48h","orient":"left","angle":0,"fontSize":11,"fontWeight":"bold","anchor":"middle","offset":0},
       "spacing":0,
       "resolve":{"scale":{"color":"independent","x":"independent","y":"independent","xOffset":"independent"},"legend":{"color":"independent"}},
       "hconcat":[
        {"width":113,"height":78,"data":{"name":"bars"},"transform":[{"filter":"datum.t=='T48h' && datum.d=='Ima'"}],
         "mark":{"type":"bar","stroke":"black","strokeWidth":0.8},
         "encoding":{"x":{"field":"dose","type":"ordinal","title":null,"scale":{"paddingInner":0.3,"paddingOuter":0.1},"axis":{"labelAngle":0,"labelFontSize":8,"ticks":false,"domainWidth":1.5,"labelPadding":2}},
          "xOffset":{"field":"s","type":"nominal","sort":["Ima","Ima+Toco"],"scale":{"paddingInner":0.34,"paddingOuter":0}},
          "y":{"field":"v","type":"quantitative","scale":{"domain":[0,120]},"axis":{"values":[0,20,40,60,80,100,120],"labelFontSize":5,"labelFontWeight":"bold","tickSize":2,"domainWidth":1.5,"labelPadding":1,"title":["Normalised DiI","Median Intensity"],"titleFontSize":5.5,"titleFontWeight":"bold","titlePadding":4}},
          "color":{"field":"s","type":"nominal","scale":{"domain":["Ima","Ima+Toco"],"range":["black","#d6d6d6"]},"legend":{"orient":"top-left","title":null,"offset":2,"padding":0,"labelFontSize":5.5,"symbolType":"M-1.6,-0.75H1.6V0.75H-1.6Z","symbolSize":64,"symbolStrokeColor":"black","symbolStrokeWidth":0.8,"labelOffset":7,"rowPadding":1}}}},
        {"width":120,"height":78,"data":{"name":"bars"},"transform":[{"filter":"datum.t=='T48h' && datum.d=='Nilo'"}],
         "mark":{"type":"bar","stroke":"black","strokeWidth":0.8},
         "encoding":{"x":{"field":"dose","type":"ordinal","title":null,"scale":{"paddingInner":0.28,"paddingOuter":0.3},"axis":{"labelAngle":0,"labelFontSize":8,"ticks":false,"domainWidth":1.5,"labelPadding":2}},
          "xOffset":{"field":"s","type":"nominal","sort":["nilo","Nilo+Toco"],"scale":{"paddingInner":0.34,"paddingOuter":0}},
          "y":{"field":"v","type":"quantitative","scale":{"domain":[0,120]},"axis":{"values":[0,20,40,60,80,100,120],"labelFontSize":5,"labelFontWeight":"bold","tickSize":2,"domainWidth":1.5,"labelPadding":1,"title":null}},
          "color":{"field":"s","type":"nominal","scale":{"domain":["nilo","Nilo+Toco"],"range":["black","#d6d6d6"]},"legend":{"orient":"top-left","title":null,"offset":2,"padding":0,"labelFontSize":5.5,"symbolType":"M-1.6,-0.75H1.6V0.75H-1.6Z","symbolSize":64,"symbolStrokeColor":"black","symbolStrokeWidth":0.8,"labelOffset":7,"rowPadding":1}}}}
       ]},
      {"title":{"text":"T72h","orient":"left","angle":0,"fontSize":11,"fontWeight":"bold","anchor":"middle","offset":0},
       "spacing":0,
       "resolve":{"scale":{"color":"independent","x":"independent","y":"independent","xOffset":"independent"},"legend":{"color":"independent"}},
       "hconcat":[
        {"width":113,"height":78,"data":{"name":"bars"},"transform":[{"filter":"datum.t=='T72h' && datum.d=='Ima'"}],
         "mark":{"type":"bar","stroke":"black","strokeWidth":0.8},
         "encoding":{"x":{"field":"dose","type":"ordinal","title":null,"scale":{"paddingInner":0.3,"paddingOuter":0.1},"axis":{"labelAngle":0,"labelFontSize":8,"ticks":false,"domainWidth":1.5,"labelPadding":2}},
          "xOffset":{"field":"s","type":"nominal","sort":["Ima","Ima+Toco"],"scale":{"paddingInner":0.34,"paddingOuter":0}},
          "y":{"field":"v","type":"quantitative","scale":{"domain":[0,120]},"axis":{"values":[0,20,40,60,80,100,120],"labelFontSize":5,"labelFontWeight":"bold","tickSize":2,"domainWidth":1.5,"labelPadding":1,"title":["Normalised DiI","Median Intensity"],"titleFontSize":5.5,"titleFontWeight":"bold","titlePadding":4}},
          "color":{"field":"s","type":"nominal","scale":{"domain":["Ima","Ima+Toco"],"range":["black","#d6d6d6"]},"legend":{"orient":"top-left","title":null,"offset":2,"padding":0,"labelFontSize":5.5,"symbolType":"M-1.6,-0.75H1.6V0.75H-1.6Z","symbolSize":64,"symbolStrokeColor":"black","symbolStrokeWidth":0.8,"labelOffset":7,"rowPadding":1}}}},
        {"width":120,"height":78,"data":{"name":"bars"},"transform":[{"filter":"datum.t=='T72h' && datum.d=='Nilo'"}],
         "mark":{"type":"bar","stroke":"black","strokeWidth":0.8},
         "encoding":{"x":{"field":"dose","type":"ordinal","title":null,"scale":{"paddingInner":0.28,"paddingOuter":0.3},"axis":{"labelAngle":0,"labelFontSize":8,"ticks":false,"domainWidth":1.5,"labelPadding":2}},
          "xOffset":{"field":"s","type":"nominal","sort":["nilo","Nilo+Toco"],"scale":{"paddingInner":0.34,"paddingOuter":0}},
          "y":{"field":"v","type":"quantitative","scale":{"domain":[0,120]},"axis":{"values":[0,20,40,60,80,100,120],"labelFontSize":5,"labelFontWeight":"bold","tickSize":2,"domainWidth":1.5,"labelPadding":1,"title":null}},
          "color":{"field":"s","type":"nominal","scale":{"domain":["nilo","Nilo+Toco"],"range":["black","#d6d6d6"]},"legend":{"orient":"top-left","title":null,"offset":2,"padding":0,"labelFontSize":5.5,"symbolType":"M-1.6,-0.75H1.6V0.75H-1.6Z","symbolSize":64,"symbolStrokeColor":"black","symbolStrokeWidth":0.8,"labelOffset":7,"rowPadding":1}}}}
       ]}
     ]}
   ]}
 ]},
{"spacing":43,
 "resolve":{"scale":{"fill":"independent","shape":"independent","x":"independent","y":"independent"},"legend":{"fill":"independent","shape":"independent"}},
 "hconcat":[
  {"spacing":0,
   "resolve":{"scale":{"fill":"independent","shape":"independent","x":"independent","y":"independent"},"legend":{"fill":"independent","shape":"independent"}},
   "hconcat":[
    {"width":1,"height":1,"data":{"values":[{"id":0}]},"mark":{"type":"point","opacity":0,"size":1}},
    {"title":{"text":"C","fontSize":15,"fontWeight":"bold","anchor":"start","offset":12,"dx":-30},
     "width":217,"height":145,"data":{"name":"cdata"},
     "encoding":{"x":{"field":"t","type":"quantitative","scale":{"domain":[0,70],"nice":false},"axis":{"values":[0,10,20,30,40,50,60,70],"title":"Time (hours)","titleFontSize":7.5,"titleFontWeight":"bold","titlePadding":8,"labelFontSize":10,"labelFontWeight":"bold","domainWidth":2,"tickWidth":1.5,"tickSize":4,"labelPadding":2}},
       "y":{"field":"v","type":"quantitative","scale":{"domain":[0,100],"nice":false},"axis":{"values":[0,10,20,30,40,50,60,70,80,90,100],"title":"Cell proliferation (%)","titleFontSize":10.5,"titleFontWeight":"bold","titlePadding":4,"labelFontSize":9.5,"labelFontWeight":"bold","domainWidth":2,"tickWidth":1.5,"tickSize":3,"labelPadding":1}}},
     "layer":[
      {"mark":{"type":"errorbar","ticks":{"size":4,"color":"#777"},"rule":{"color":"#777"}},"encoding":{"yError":{"field":"e"},"detail":{"field":"s"}}},
      {"mark":{"type":"line","color":"black","strokeWidth":0.7},"encoding":{"detail":{"field":"s"}}},
      {"mark":{"type":"point","filled":true,"stroke":"black","strokeWidth":0.8,"size":26,"opacity":1},
       "encoding":{"shape":{"field":"s","type":"nominal","scale":{"domain":["NT","NTT","G","GT"],"range":["square","square","circle","circle"]},
          "legend":{"orient":"top-left","title":null,"offset":1,"padding":0,"labelFontSize":7.5,"symbolSize":24,"symbolStrokeColor":"black","symbolStrokeWidth":0.8,"rowPadding":0,"labelOffset":3,"labelExpr":"datum.label == 'NT' ? 'NT' : datum.label == 'NTT' ? 'NT + Toco 100 µM' : datum.label == 'G' ? '0.03µM Gefitinib' : '0.03µM Gefitinib + Toco 100 µM'"}},
        "fill":{"field":"s","type":"nominal","scale":{"domain":["NT","NTT","G","GT"],"range":["black","white","black","white"]},
          "legend":{"orient":"top-left","title":null,"offset":1,"padding":0,"labelFontSize":7.5,"symbolSize":24,"symbolStrokeColor":"black","symbolStrokeWidth":0.8,"rowPadding":0,"labelOffset":3,"labelExpr":"datum.label == 'NT' ? 'NT' : datum.label == 'NTT' ? 'NT + Toco 100 µM' : datum.label == 'G' ? '0.03µM Gefitinib' : '0.03µM Gefitinib + Toco 100 µM'"}}}}
     ]}
   ]},
  {"spacing":0,
   "resolve":{"scale":{"fill":"independent","shape":"independent","x":"independent","y":"independent"},"legend":{"fill":"independent","shape":"independent"}},
   "vconcat":[
    {"title":{"text":"D","fontSize":15,"fontWeight":"bold","anchor":"start","offset":12,"dx":-51},"width":219,"height":1,"data":{"values":[{"id":0}]},"mark":{"type":"point","opacity":0,"size":1}},
    {"width":219,"height":143,"data":{"name":"ddata"},
     "encoding":{"x":{"field":"t","type":"quantitative","scale":{"domain":[0,70],"nice":false},"axis":{"values":[0,10,20,30,40,50,60,70],"title":"Time (hours)","titleFontSize":7,"titleFontWeight":"bold","titlePadding":8,"labelFontSize":10,"labelFontWeight":"bold","domainWidth":2,"tickWidth":1.5,"tickSize":4,"labelPadding":2}},
       "y":{"field":"v","type":"quantitative","scale":{"domain":[0,600],"nice":false},"axis":{"values":[0,100,200,300,400,500,600],"title":"Nb of cytolysed cells / image","titleFontSize":9,"titleFontWeight":"bold","titlePadding":4,"labelFontSize":10.5,"labelFontWeight":"bold","domainColor":"#999","domainWidth":2.5,"tickColor":"#999","tickWidth":1.5,"tickSize":3,"labelPadding":1}}},
     "layer":[
      {"mark":{"type":"errorbar","ticks":{"size":4,"color":"#888"},"rule":{"color":"#888"}},"encoding":{"yError":{"field":"e"},"detail":{"field":"s"}}},
      {"mark":{"type":"line","color":"black","strokeWidth":0.7},"encoding":{"detail":{"field":"s"}}},
      {"mark":{"type":"point","filled":true,"stroke":"black","strokeWidth":0.7,"size":24,"opacity":1},
       "encoding":{"shape":{"field":"s","type":"nominal","scale":{"domain":["NT","NTT","G","GT"],"range":["square","square","circle","circle"]},
          "legend":{"orient":"top-left","title":null,"offset":1,"padding":0,"labelFontSize":6.8,"symbolSize":18,"symbolStrokeColor":"black","symbolStrokeWidth":0.7,"rowPadding":0,"labelOffset":3,"labelExpr":"datum.label == 'NT' ? 'NT' : datum.label == 'NTT' ? 'NT + Toco 100 µM' : datum.label == 'G' ? '0.03µM Gefitinib' : '0.03µM Gefitinib + Toco 100 µM'"}},
        "fill":{"field":"s","type":"nominal","scale":{"domain":["NT","NTT","G","GT"],"range":["black","#aaaaaa","black","white"]},
          "legend":{"orient":"top-left","title":null,"offset":1,"padding":0,"labelFontSize":6.8,"symbolSize":18,"symbolStrokeColor":"black","symbolStrokeWidth":0.7,"rowPadding":0,"labelOffset":3,"labelExpr":"datum.label == 'NT' ? 'NT' : datum.label == 'NTT' ? 'NT + Toco 100 µM' : datum.label == 'G' ? '0.03µM Gefitinib' : '0.03µM Gefitinib + Toco 100 µM'"}}}}
     ]}
   ]}
 ]}
]
}
